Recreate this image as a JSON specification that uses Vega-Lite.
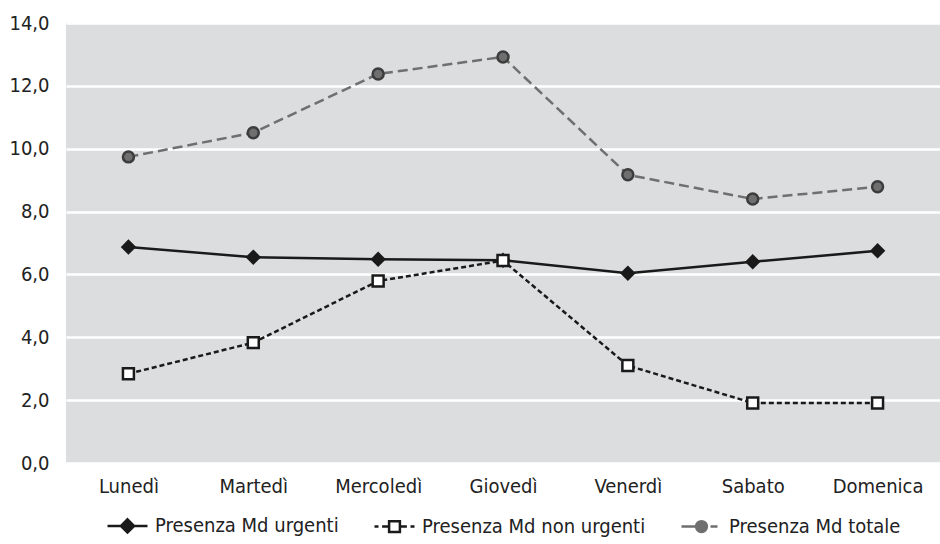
{
  "$schema": "https://vega.github.io/schema/vega-lite/v6.json",
  "width": 940,
  "height": 544,
  "autosize": {"type": "fit", "contains": "padding"},
  "padding": {"left": 8, "right": 0, "top": 13, "bottom": 6},
  "background": "#ffffff",
  "config": {
    "font": "DejaVu Sans Condensed, sans-serif",
    "view": {"fill": "#dcdddf", "stroke": null},
    "axis": {"labelFont": "DejaVu Sans Condensed, sans-serif", "labelFontSize": 20, "labelColor": "#222222", "domain": false, "ticks": false, "title": null},
    "legend": {"labelFont": "DejaVu Sans Condensed, sans-serif", "labelFontSize": 20, "labelColor": "#222222", "layout": {"bottom": {"anchor": "middle"}}}
  },
  "data": {
    "values": [
      {"giorno": "Lunedì", "serie": "Presenza Md urgenti", "valore": 6.87},
      {"giorno": "Martedì", "serie": "Presenza Md urgenti", "valore": 6.55},
      {"giorno": "Mercoledì", "serie": "Presenza Md urgenti", "valore": 6.48},
      {"giorno": "Giovedì", "serie": "Presenza Md urgenti", "valore": 6.45},
      {"giorno": "Venerdì", "serie": "Presenza Md urgenti", "valore": 6.04},
      {"giorno": "Sabato", "serie": "Presenza Md urgenti", "valore": 6.4},
      {"giorno": "Domenica", "serie": "Presenza Md urgenti", "valore": 6.75},
      {"giorno": "Lunedì", "serie": "Presenza Md non urgenti", "valore": 2.84},
      {"giorno": "Martedì", "serie": "Presenza Md non urgenti", "valore": 3.83},
      {"giorno": "Mercoledì", "serie": "Presenza Md non urgenti", "valore": 5.79},
      {"giorno": "Giovedì", "serie": "Presenza Md non urgenti", "valore": 6.44},
      {"giorno": "Venerdì", "serie": "Presenza Md non urgenti", "valore": 3.1},
      {"giorno": "Sabato", "serie": "Presenza Md non urgenti", "valore": 1.91},
      {"giorno": "Domenica", "serie": "Presenza Md non urgenti", "valore": 1.91},
      {"giorno": "Lunedì", "serie": "Presenza Md totale", "valore": 9.74},
      {"giorno": "Martedì", "serie": "Presenza Md totale", "valore": 10.51},
      {"giorno": "Mercoledì", "serie": "Presenza Md totale", "valore": 12.38},
      {"giorno": "Giovedì", "serie": "Presenza Md totale", "valore": 12.92},
      {"giorno": "Venerdì", "serie": "Presenza Md totale", "valore": 9.17},
      {"giorno": "Sabato", "serie": "Presenza Md totale", "valore": 8.4},
      {"giorno": "Domenica", "serie": "Presenza Md totale", "valore": 8.79}
    ]
  },
  "encoding": {
    "x": {
      "field": "giorno",
      "type": "nominal",
      "sort": ["Lunedì", "Martedì", "Mercoledì", "Giovedì", "Venerdì", "Sabato", "Domenica"],
      "scale": {"type": "point", "padding": 0.5},
      "axis": {"labelAngle": 0, "labelPadding": 13, "grid": false}
    },
    "y": {
      "field": "valore",
      "type": "quantitative",
      "scale": {"domain": [0, 14], "nice": false},
      "axis": {
        "values": [0, 2, 4, 6, 8, 10, 12, 14],
        "labelExpr": "replace(format(datum.value, '.1f'), '.', ',')",
        "labelPadding": 17,
        "grid": true,
        "gridColor": "#ffffff",
        "gridWidth": 2.5,
        "gridOpacity": 1
      }
    }
  },
  "layer": [
    {
      "encoding": {
        "color": {
          "field": "serie",
          "type": "nominal",
          "scale": {
            "domain": ["Presenza Md urgenti", "Presenza Md non urgenti", "Presenza Md totale"],
            "range": ["#1a1a1a", "#1a1a1a", "#6f6f6f"]
          },
          "legend": {
            "orient": "bottom",
            "direction": "horizontal",
            "title": null,
            "offset": 8,
            "symbolSize": 1600,
            "labelOffset": 6,
            "labelLimit": 0,
            "columnPadding": 30,
            "encode": {
              "symbols": {
                "update": {
                  "shape": {"signal": "datum.value === 'Presenza Md urgenti' ? 'M-1,0L1,0M0,-0.33L0.33,0L0,0.33L-0.33,0Z' : datum.value === 'Presenza Md non urgenti' ? 'M-1,0L-0.8,0M-0.62,0L-0.27,0M0.27,0L0.62,0M0.8,0L1,0M-0.27,-0.27L0.27,-0.27L0.27,0.27L-0.27,0.27Z' : 'M-1,0L-0.27,0M0.45,0L0.8,0M0.27,0A0.27,0.27 0 1,1 -0.27,0A0.27,0.27 0 1,1 0.27,0Z'"},
                  "fill": {"signal": "datum.value === 'Presenza Md urgenti' ? '#1a1a1a' : datum.value === 'Presenza Md non urgenti' ? '#ffffff' : '#6f6f6f'"},
                  "strokeWidth": {"value": 2.5},
                  "size": {"value": 1600},
                  "opacity": {"value": 1},
                  "fillOpacity": {"value": 1},
                  "strokeOpacity": {"value": 1}
                }
              }
            }
          }
        }
      },
      "layer": [
        {
          "transform": [{"filter": "datum.serie === 'Presenza Md urgenti'"}],
          "mark": {"type": "line", "strokeWidth": 2.5}
        },
        {
          "transform": [{"filter": "datum.serie === 'Presenza Md non urgenti'"}],
          "mark": {"type": "line", "strokeWidth": 2.5, "strokeDash": [5, 3]}
        },
        {
          "transform": [{"filter": "datum.serie === 'Presenza Md totale'"}],
          "mark": {"type": "line", "strokeWidth": 2.5, "strokeDash": [10, 5]}
        }
      ]
    },
    {
      "transform": [{"filter": "datum.serie === 'Presenza Md urgenti'"}],
      "mark": {"type": "point", "shape": "diamond", "filled": true, "fill": "#1a1a1a", "stroke": "#1a1a1a", "strokeWidth": 2, "size": 160, "opacity": 1}
    },
    {
      "transform": [{"filter": "datum.serie === 'Presenza Md non urgenti'"}],
      "mark": {"type": "point", "shape": "square", "filled": true, "fill": "#ffffff", "stroke": "#1a1a1a", "strokeWidth": 2.5, "size": 120, "opacity": 1}
    },
    {
      "transform": [{"filter": "datum.serie === 'Presenza Md totale'"}],
      "mark": {"type": "point", "shape": "circle", "filled": true, "fill": "#6f6f6f", "stroke": "#3c3c3c", "strokeWidth": 2.5, "size": 120, "opacity": 1}
    }
  ]
}
